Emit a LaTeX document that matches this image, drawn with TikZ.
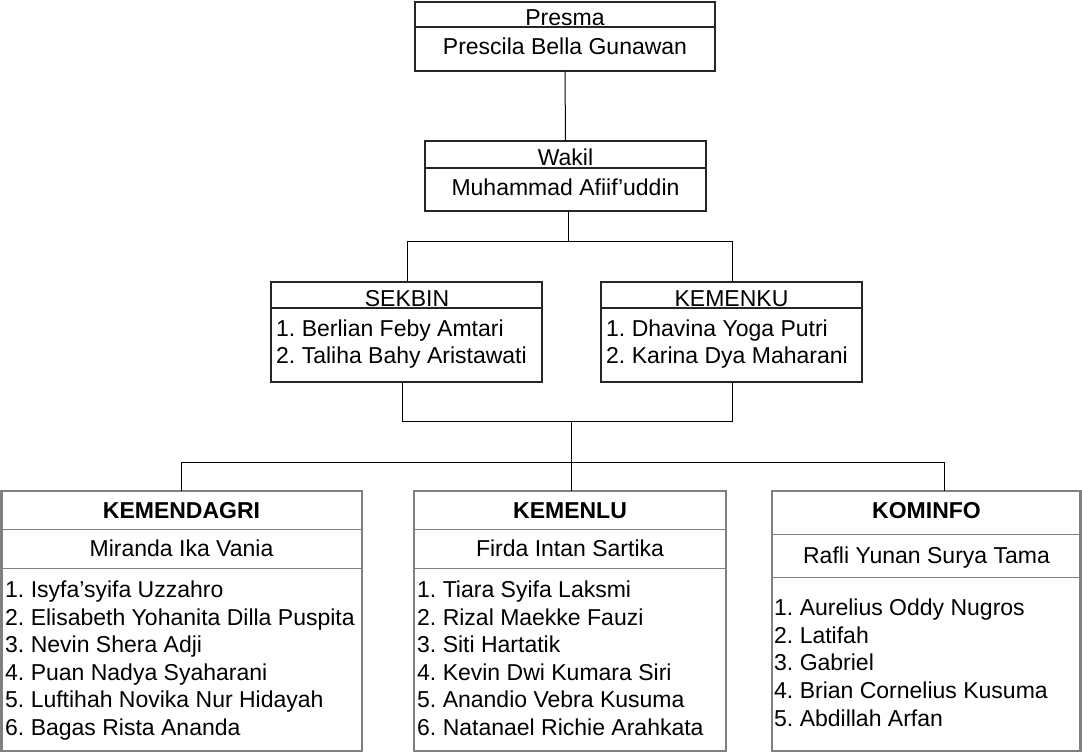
\documentclass[tikz,border=0pt]{standalone}
\usepackage{fontspec}
\setmainfont{Liberation Sans}[Ligatures=NoCommon]
\usetikzlibrary{calc}
\definecolor{bordgray}{RGB}{128,128,128}
\definecolor{txt}{RGB}{0,0,0}
\frenchspacing
\begin{document}
\begin{tikzpicture}[x=1pt,y=-1pt,
  every node/.style={font=\fontsize{23}{27.6}\selectfont, text=txt},
  topbox/.style={draw=black!85, line width=2pt, fill=white, inner sep=0pt, outer sep=0pt, anchor=north west},
  botbox/.style={draw=bordgray, line width=2.4pt, fill=white, inner sep=0pt, outer sep=0pt, anchor=north west},
  topdiv/.style={draw=black!85, line width=1.6pt},
  botdiv/.style={draw=bordgray, line width=1pt},
  conn/.style={draw=black, line width=1pt},
  lbl/.style={inner sep=0pt, anchor=base},
  item/.style={inner sep=0pt, anchor=base west},
]
\useasboundingbox (0,0) rectangle (1082,752);

% junction coordinates
\coordinate (jw) at (568,241);
\coordinate (js) at (407,241);
\coordinate (jk) at (732,241);
\coordinate (ls) at (402,421);
\coordinate (lk) at (732,421);
\coordinate (lm) at (571,421);
\coordinate (ba) at (181,462);
\coordinate (bb) at (571,462);
\coordinate (bc) at (944,462);

% boxes
\node[topbox, minimum width=300pt, minimum height=69pt] (presma) at (415,2) {};
\node[topbox, minimum width=281pt, minimum height=70pt] (wakil) at (425,141) {};
\node[topbox, minimum width=271pt, minimum height=100pt] (sekbin) at (271,282) {};
\node[topbox, minimum width=261pt, minimum height=100pt] (kemenku) at (601,282) {};
\node[botbox, minimum width=360.5pt, minimum height=260pt] (kemendagri) at (1.5,491) {};
\node[botbox, minimum width=312pt, minimum height=260pt] (kemenlu) at (414,491) {};
\node[botbox, minimum width=308.5pt, minimum height=260pt] (kominfo) at (772,491) {};

% dividers
\draw[topdiv] ($(presma.north west)+(0,25)$) -- ($(presma.north east)+(0,25)$);
\draw[topdiv] ($(wakil.north west)+(0,27)$) -- ($(wakil.north east)+(0,27)$);
\draw[topdiv] ($(sekbin.north west)+(0,26)$) -- ($(sekbin.north east)+(0,26)$);
\draw[topdiv] ($(kemenku.north west)+(0,26)$) -- ($(kemenku.north east)+(0,26)$);
\draw[botdiv] ($(kemendagri.north west)+(0,38)$) -- ($(kemendagri.north east)+(0,38)$);
\draw[botdiv] ($(kemendagri.north west)+(0,77)$) -- ($(kemendagri.north east)+(0,77)$);
\draw[botdiv] ($(kemenlu.north west)+(0,38)$) -- ($(kemenlu.north east)+(0,38)$);
\draw[botdiv] ($(kemenlu.north west)+(0,77)$) -- ($(kemenlu.north east)+(0,77)$);
\draw[botdiv] ($(kominfo.north west)+(0,43)$) -- ($(kominfo.north east)+(0,43)$);
\draw[botdiv] ($(kominfo.north west)+(0,86)$) -- ($(kominfo.north east)+(0,86)$);

% connectors
\draw[conn] (presma.south) -- (wakil.north);
\draw[conn] (wakil.south -| jw) -- (jw);
\draw[conn] (sekbin.north -| js) -- (js) -- (jk) -- (kemenku.north -| jk);
\draw[conn] (sekbin.south -| ls) -- (ls) -- (lk) -- (kemenku.south -| lk);
\draw[conn] (lm) -- (bb);
\draw[conn] (kemendagri.north -| ba) -- (ba) -- (bc) -- (kominfo.north -| bc);
\draw[conn] (bb) -- (kemenlu.north -| bb);

% texts: top
\node[lbl] (tpresma) at (565,25.3) {Presma};
\node[lbl] (npresma) at (565,55) {Prescila Bella Gunawan};
\node[lbl] (twakil) at (565.5,165) {Wakil};
\node[lbl] (nwakil) at (565.5,195) {Muhammad Afiif’uddin};

% middle
\node[lbl] (tsekbin) at (407,306) {SEKBIN};
\node[item] (s1) at (276,336) {1. Berlian Feby Amtari};
\node[item] (s2) at (276,363.6) {2. Taliha Bahy Aristawati};
\node[lbl] (tkemenku) at (731.5,306) {KEMENKU};
\node[item] (k1) at (606,336) {1. Dhavina Yoga Putri};
\node[item] (k2) at (606,363.6) {2. Karina Dya Maharani};

% bottom: kemendagri
\node[lbl, font=\fontsize{23}{27.6}\selectfont\bfseries] (tdagri) at (181.5,518) {KEMENDAGRI};
\node[lbl] (ndagri) at (181.5,556) {Miranda Ika Vania};
\node[item] (d1) at (5,597.5) {1. Isyfa’syifa Uzzahro};
\node[item] (d2) at (5,625.1) {2. Elisabeth Yohanita Dilla Puspita};
\node[item] (d3) at (5,652.7) {3. Nevin Shera Adji};
\node[item] (d4) at (5,680.3) {4. Puan Nadya Syaharani};
\node[item] (d5) at (5,707.9) {5. Luftihah Novika Nur Hidayah};
\node[item] (d6) at (5,735.5) {6. Bagas Rista Ananda};

% kemenlu
\node[lbl, font=\fontsize{23}{27.6}\selectfont\bfseries] (tlu) at (570,518) {KEMENLU};
\node[lbl] (nlu) at (570,556) {Firda Intan Sartika};
\node[item] (l1) at (417,597.5) {1. Tiara Syifa Laksmi};
\node[item] (l2) at (417,625.1) {2. Rizal Maekke Fauzi};
\node[item] (l3) at (417,652.7) {3. Siti Hartatik};
\node[item] (l4) at (417,680.3) {4. Kevin Dwi Kumara Siri};
\node[item] (l5) at (417,707.9) {5. Anandio Vebra Kusuma};
\node[item] (l6) at (417,735.5) {6. Natanael Richie Arahkata};

% kominfo
\node[lbl, font=\fontsize{23}{27.6}\selectfont\bfseries] (tinfo) at (926.5,518) {KOMINFO};
\node[lbl] (ninfo) at (926.5,563) {Rafli Yunan Surya Tama};
\node[item] (i1) at (774,615.7) {1. Aurelius Oddy Nugros};
\node[item] (i2) at (774,643.3) {2. Latifah};
\node[item] (i3) at (774,670.9) {3. Gabriel};
\node[item] (i4) at (774,698.5) {4. Brian Cornelius Kusuma};
\node[item] (i5) at (774,726.1) {5. Abdillah Arfan};
\end{tikzpicture}
\end{document}
